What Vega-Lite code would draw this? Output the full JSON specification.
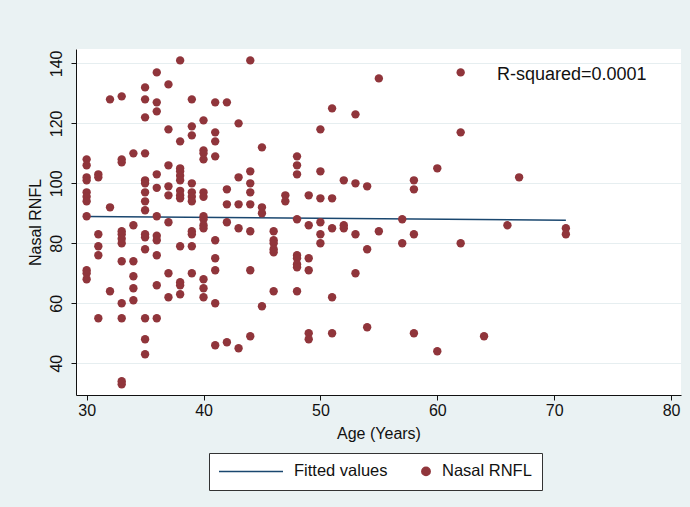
{
  "$schema": "https://vega.github.io/schema/vega-lite/v6.json",
  "width": 605,
  "height": 346,
  "autosize": {"type": "none"},
  "padding": {"left": 76, "top": 49, "right": 9, "bottom": 112},
  "background": "#eaf2f3",
  "view": {"fill": "white", "stroke": null},
  "config": {
    "font": "Liberation Sans",
    "axis": {
      "domainColor": "#111",
      "tickColor": "#111",
      "labelColor": "#111",
      "titleColor": "#111",
      "labelFontSize": 16,
      "titleFontSize": 16,
      "titleFontWeight": "normal",
      "tickSize": 5,
      "labelFont": "Liberation Sans",
      "titleFont": "Liberation Sans"
    },
    "legend": {
      "labelFontSize": 16.5,
      "labelFont": "Liberation Sans",
      "labelColor": "#111"
    }
  },
  "datasets": {
    "pts": [
      {"age":30,"rnfl":108},{"age":30,"rnfl":106},{"age":30,"rnfl":102},{"age":30,"rnfl":101},{"age":30,"rnfl":97},{"age":30,"rnfl":95.5},{"age":30,"rnfl":94},{"age":30,"rnfl":89},{"age":30,"rnfl":71},{"age":30,"rnfl":70},{"age":30,"rnfl":68},
      {"age":31,"rnfl":103},{"age":31,"rnfl":102},{"age":31,"rnfl":83},{"age":31,"rnfl":79},{"age":31,"rnfl":76},{"age":31,"rnfl":55},
      {"age":32,"rnfl":128},{"age":32,"rnfl":92},{"age":32,"rnfl":64},
      {"age":33,"rnfl":129},{"age":33,"rnfl":108},{"age":33,"rnfl":107},{"age":33,"rnfl":84},{"age":33,"rnfl":83},{"age":33,"rnfl":81.5},{"age":33,"rnfl":80},{"age":33,"rnfl":74},{"age":33,"rnfl":60},{"age":33,"rnfl":55},{"age":33,"rnfl":34},{"age":33,"rnfl":33},
      {"age":34,"rnfl":110},{"age":34,"rnfl":86},{"age":34,"rnfl":74},{"age":34,"rnfl":69},{"age":34,"rnfl":65},{"age":34,"rnfl":61},
      {"age":35,"rnfl":132},{"age":35,"rnfl":128},{"age":35,"rnfl":122},{"age":35,"rnfl":110},{"age":35,"rnfl":101},{"age":35,"rnfl":100},{"age":35,"rnfl":97},{"age":35,"rnfl":94},{"age":35,"rnfl":91},{"age":35,"rnfl":83},{"age":35,"rnfl":82},{"age":35,"rnfl":78},{"age":35,"rnfl":55},{"age":35,"rnfl":48},{"age":35,"rnfl":43},
      {"age":36,"rnfl":137},{"age":36,"rnfl":127},{"age":36,"rnfl":124},{"age":36,"rnfl":103},{"age":36,"rnfl":98.5},{"age":36,"rnfl":89},{"age":36,"rnfl":82.5},{"age":36,"rnfl":81},{"age":36,"rnfl":76},{"age":36,"rnfl":66},{"age":36,"rnfl":55},
      {"age":37,"rnfl":133},{"age":37,"rnfl":118},{"age":37,"rnfl":106},{"age":37,"rnfl":99},{"age":37,"rnfl":96},{"age":37,"rnfl":87},{"age":37,"rnfl":70},{"age":37,"rnfl":62},
      {"age":38,"rnfl":141},{"age":38,"rnfl":114},{"age":38,"rnfl":105},{"age":38,"rnfl":104},{"age":38,"rnfl":102.5},{"age":38,"rnfl":101},{"age":38,"rnfl":97.5},{"age":38,"rnfl":96},{"age":38,"rnfl":95},{"age":38,"rnfl":79},{"age":38,"rnfl":67},{"age":38,"rnfl":66},{"age":38,"rnfl":63},
      {"age":39,"rnfl":128},{"age":39,"rnfl":119},{"age":39,"rnfl":116},{"age":39,"rnfl":100},{"age":39,"rnfl":97},{"age":39,"rnfl":95.5},{"age":39,"rnfl":94},{"age":39,"rnfl":84},{"age":39,"rnfl":83},{"age":39,"rnfl":79},{"age":39,"rnfl":70},
      {"age":40,"rnfl":121},{"age":40,"rnfl":111},{"age":40,"rnfl":110},{"age":40,"rnfl":108},{"age":40,"rnfl":97},{"age":40,"rnfl":95.5},{"age":40,"rnfl":89},{"age":40,"rnfl":88},{"age":40,"rnfl":86},{"age":40,"rnfl":85},{"age":40,"rnfl":68},{"age":40,"rnfl":65},{"age":40,"rnfl":62},
      {"age":41,"rnfl":127},{"age":41,"rnfl":117},{"age":41,"rnfl":114},{"age":41,"rnfl":109},{"age":41,"rnfl":81},{"age":41,"rnfl":75},{"age":41,"rnfl":71},{"age":41,"rnfl":60},{"age":41,"rnfl":46},
      {"age":42,"rnfl":127},{"age":42,"rnfl":98},{"age":42,"rnfl":93},{"age":42,"rnfl":87},{"age":42,"rnfl":47},
      {"age":43,"rnfl":120},{"age":43,"rnfl":102},{"age":43,"rnfl":93},{"age":43,"rnfl":85},{"age":43,"rnfl":45},
      {"age":44,"rnfl":141},{"age":44,"rnfl":104},{"age":44,"rnfl":100},{"age":44,"rnfl":97},{"age":44,"rnfl":93},{"age":44,"rnfl":84},{"age":44,"rnfl":71},{"age":44,"rnfl":49},
      {"age":45,"rnfl":112},{"age":45,"rnfl":92},{"age":45,"rnfl":90},{"age":45,"rnfl":59},
      {"age":46,"rnfl":84},{"age":46,"rnfl":81},{"age":46,"rnfl":80},{"age":46,"rnfl":78},{"age":46,"rnfl":77},{"age":46,"rnfl":64},
      {"age":47,"rnfl":96},{"age":47,"rnfl":94},
      {"age":48,"rnfl":109},{"age":48,"rnfl":106},{"age":48,"rnfl":103},{"age":48,"rnfl":88},{"age":48,"rnfl":76},{"age":48,"rnfl":75},{"age":48,"rnfl":73},{"age":48,"rnfl":72},{"age":48,"rnfl":64},
      {"age":49,"rnfl":96},{"age":49,"rnfl":86},{"age":49,"rnfl":75},{"age":49,"rnfl":71},{"age":49,"rnfl":50},{"age":49,"rnfl":48},
      {"age":50,"rnfl":118},{"age":50,"rnfl":104},{"age":50,"rnfl":95},{"age":50,"rnfl":87},{"age":50,"rnfl":83},{"age":50,"rnfl":80},
      {"age":51,"rnfl":125},{"age":51,"rnfl":95},{"age":51,"rnfl":85},{"age":51,"rnfl":62},{"age":51,"rnfl":50},
      {"age":52,"rnfl":101},{"age":52,"rnfl":86},{"age":52,"rnfl":85},
      {"age":53,"rnfl":123},{"age":53,"rnfl":100},{"age":53,"rnfl":83},{"age":53,"rnfl":70},
      {"age":54,"rnfl":99},{"age":54,"rnfl":78},{"age":54,"rnfl":52},
      {"age":55,"rnfl":135},{"age":55,"rnfl":84},
      {"age":57,"rnfl":88},{"age":57,"rnfl":80},
      {"age":58,"rnfl":101},{"age":58,"rnfl":98},{"age":58,"rnfl":83},{"age":58,"rnfl":50},
      {"age":60,"rnfl":105},{"age":60,"rnfl":44},
      {"age":62,"rnfl":137},{"age":62,"rnfl":117},{"age":62,"rnfl":80},
      {"age":64,"rnfl":49},
      {"age":66,"rnfl":86},
      {"age":67,"rnfl":102},
      {"age":71,"rnfl":85},{"age":71,"rnfl":83}
    ],
    "fit": [
      {"age":30,"fitted":88.9},
      {"age":71,"fitted":87.7}
    ],
    "note": [
      {"age":65.1,"rnfl":136,"label":"R-squared=0.0001"}
    ]
  },
  "layer": [
    {
      "data": {"name": "fit"},
      "mark": {"type": "line", "strokeWidth": 1.5},
      "encoding": {
        "x": {
          "field": "age", "type": "quantitative",
          "scale": {"domain": [29.09, 80.85], "nice": false, "zero": false},
          "axis": {
            "title": "Age (Years)",
            "values": [30, 40, 50, 60, 70, 80],
            "grid": false,
            "labelPadding": 2,
            "titlePadding": 7
          }
        },
        "y": {
          "field": "fitted", "type": "quantitative",
          "scale": {"domain": [29.4, 144.8], "nice": false, "zero": false},
          "axis": {
            "title": "Nasal RNFL",
            "values": [40, 60, 80, 100, 120, 140],
            "grid": true,
            "gridColor": "#e6eef0",
            "labelAngle": 270,
            "labelPadding": 7,
            "titlePadding": 5
          }
        },
        "color": {
          "datum": "Fitted values",
          "scale": {"domain": ["Fitted values", "Nasal RNFL"], "range": ["#1a476f", "#90353b"]},
          "legend": {
            "title": null,
            "orient": "none",
            "legendX": 133,
            "legendY": 404,
            "direction": "horizontal",
            "columns": 2,
            "columnPadding": 30,
            "padding": 10,
            "fillColor": "white",
            "strokeColor": "#333",
            "values": ["Fitted values", "Nasal RNFL"],
            "encode": {
              "symbols": {
                "update": {
                  "shape": {"signal": "datum.value === 'Fitted values' ? 'stroke' : 'circle'"},
                  "size": {"signal": "datum.value === 'Fitted values' ? 4096 : 70"},
                  "fill": {"signal": "datum.value === 'Fitted values' ? 'transparent' : '#90353b'"},
                  "stroke": {"signal": "datum.value === 'Fitted values' ? '#1a476f' : 'transparent'"},
                  "strokeWidth": {"value": 1.5},
                  "opacity": {"value": 1},
                  "x": {"signal": "datum.value === 'Fitted values' ? 32 : 5"}
                }
              },
              "labels": {
                "update": {
                  "x": {"signal": "datum.value === 'Fitted values' ? 75 : 21"}
                }
              }
            }
          }
        }
      }
    },
    {
      "data": {"name": "pts"},
      "mark": {"type": "point", "filled": true, "size": 70, "opacity": 1},
      "encoding": {
        "x": {"field": "age", "type": "quantitative"},
        "y": {"field": "rnfl", "type": "quantitative"},
        "color": {
          "datum": "Nasal RNFL",
          "legend": {
            "title": null,
            "orient": "none",
            "legendX": 133,
            "legendY": 404,
            "direction": "horizontal",
            "columns": 2,
            "columnPadding": 30,
            "padding": 10,
            "fillColor": "white",
            "strokeColor": "#333",
            "values": ["Fitted values", "Nasal RNFL"],
            "encode": {
              "symbols": {
                "update": {
                  "shape": {"signal": "datum.value === 'Fitted values' ? 'stroke' : 'circle'"},
                  "size": {"signal": "datum.value === 'Fitted values' ? 4096 : 70"},
                  "fill": {"signal": "datum.value === 'Fitted values' ? 'transparent' : '#90353b'"},
                  "stroke": {"signal": "datum.value === 'Fitted values' ? '#1a476f' : 'transparent'"},
                  "strokeWidth": {"value": 1.5},
                  "opacity": {"value": 1},
                  "x": {"signal": "datum.value === 'Fitted values' ? 32 : 5"}
                }
              },
              "labels": {
                "update": {
                  "x": {"signal": "datum.value === 'Fitted values' ? 75 : 21"}
                }
              }
            }
          }
        }
      }
    },
    {
      "data": {"name": "note"},
      "mark": {"type": "text", "align": "left", "baseline": "middle", "fontSize": 18, "font": "Liberation Sans", "color": "#111"},
      "encoding": {
        "x": {"field": "age", "type": "quantitative"},
        "y": {"field": "rnfl", "type": "quantitative"},
        "text": {"field": "label"}
      }
    }
  ]
}
